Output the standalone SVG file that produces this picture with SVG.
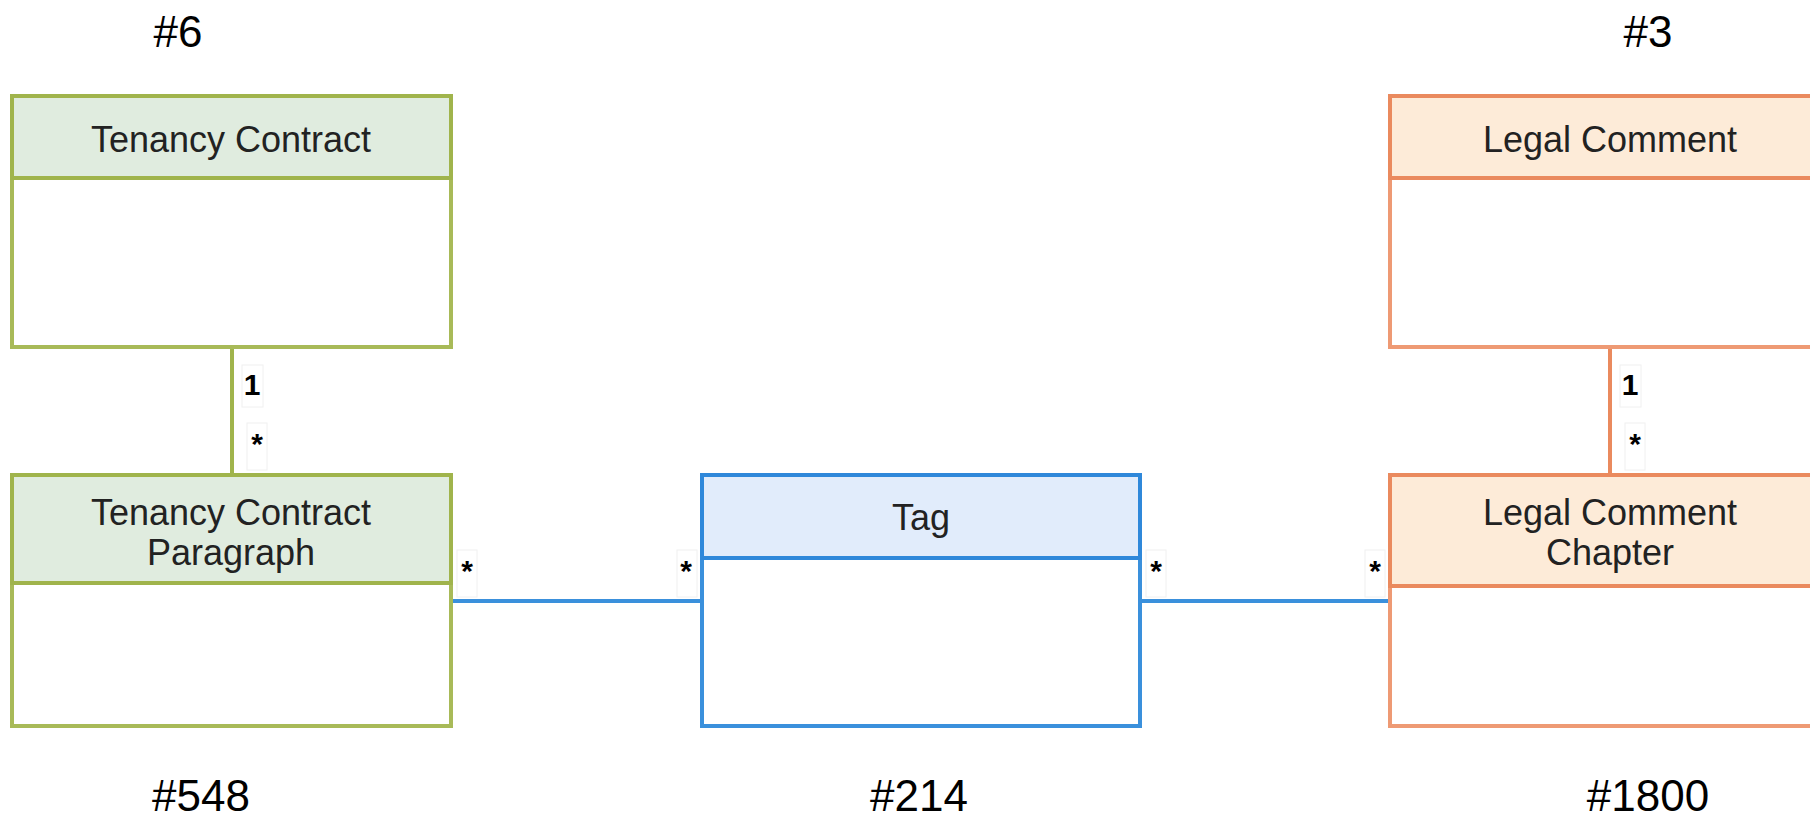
<svg xmlns="http://www.w3.org/2000/svg" width="1810" height="817" viewBox="0 0 1810 817">
<style>
  text { font-family: "Liberation Sans", Arial, sans-serif; }
  .title { font-size: 36px; fill: #222; text-anchor: middle; }
  .count { font-size: 44px; fill: #000; text-anchor: middle; }
  .mult { font-size: 30px; fill: #000; font-weight: bold; text-anchor: middle; }
  .lblbg { fill: #fff; stroke: #f0f0f0; stroke-width: 1; }
  .green .hd { fill: #e0ecdf; stroke: #a0b44c; stroke-width: 4; }
  .green .bd { fill: #fff; stroke: #a8ba58; stroke-width: 4; }
  .orange .hd { fill: #fdebd8; stroke: #ea8a5e; stroke-width: 4; }
  .orange .bd { fill: #fff; stroke: #ee9a74; stroke-width: 4; }
  .blue .hd { fill: #e1ecfb; stroke: #2f88da; stroke-width: 4; }
  .blue .bd { fill: #fff; stroke: #3a90dc; stroke-width: 4; }
  .cg { stroke: #a0b44c; stroke-width: 4; fill: none; }
  .co { stroke: #ea8a5e; stroke-width: 4; fill: none; }
  .cb { stroke: #3a90dc; stroke-width: 4; fill: none; }
</style>

<g id="connectors">
  <line class="cg" x1="232" y1="349" x2="232" y2="475"/>
  <line class="co" x1="1610" y1="349" x2="1610" y2="475"/>
  <line class="cb" x1="452" y1="601" x2="702" y2="601"/>
  <line class="cb" x1="1140" y1="601" x2="1390" y2="601"/>
  <rect class="lblbg" x="242" y="365" width="21" height="42"/>
  <text class="mult" x="252" y="395">1</text>
  <rect class="lblbg" x="247" y="423" width="20" height="47"/>
  <text class="mult" x="257" y="454">*</text>
  <rect class="lblbg" x="1620" y="365" width="21" height="42"/>
  <text class="mult" x="1630" y="395">1</text>
  <rect class="lblbg" x="1625" y="423" width="20" height="47"/>
  <text class="mult" x="1635" y="454">*</text>
  <rect class="lblbg" x="457" y="550" width="20" height="47"/>
  <text class="mult" x="467" y="581">*</text>
  <rect class="lblbg" x="677" y="550" width="20" height="47"/>
  <text class="mult" x="686" y="581">*</text>
  <rect class="lblbg" x="1146" y="550" width="20" height="47"/>
  <text class="mult" x="1156" y="581">*</text>
  <rect class="lblbg" x="1365" y="550" width="20" height="47"/>
  <text class="mult" x="1375" y="581">*</text>
</g>

<g id="tenancy-contract" class="green">
  <rect class="bd" x="12" y="96" width="439" height="251"/>
  <rect class="hd" x="12" y="96" width="439" height="82"/>
  <text class="title" x="231" y="152">Tenancy Contract</text>
</g>

<g id="tenancy-contract-paragraph" class="green">
  <rect class="bd" x="12" y="475" width="439" height="251"/>
  <rect class="hd" x="12" y="475" width="439" height="108"/>
  <text class="title" x="231" y="525">Tenancy Contract</text>
  <text class="title" x="231" y="565">Paragraph</text>
</g>

<g id="tag" class="blue">
  <rect class="bd" x="702" y="475" width="438" height="251"/>
  <rect class="hd" x="702" y="475" width="438" height="83"/>
  <text class="title" x="921" y="530">Tag</text>
</g>

<g id="legal-comment" class="orange">
  <rect class="bd" x="1390" y="96" width="440" height="251"/>
  <rect class="hd" x="1390" y="96" width="440" height="82"/>
  <text class="title" x="1610" y="152">Legal Comment</text>
</g>

<g id="legal-comment-chapter" class="orange">
  <rect class="bd" x="1390" y="475" width="440" height="251"/>
  <rect class="hd" x="1390" y="475" width="440" height="111"/>
  <text class="title" x="1610" y="525">Legal Comment</text>
  <text class="title" x="1610" y="565">Chapter</text>
</g>

<g id="counts">
  <text class="count" x="178" y="47">#6</text>
  <text class="count" x="1648" y="47">#3</text>
  <text class="count" x="201" y="811">#548</text>
  <text class="count" x="919" y="811">#214</text>
  <text class="count" x="1648" y="811">#1800</text>
</g>
</svg>
